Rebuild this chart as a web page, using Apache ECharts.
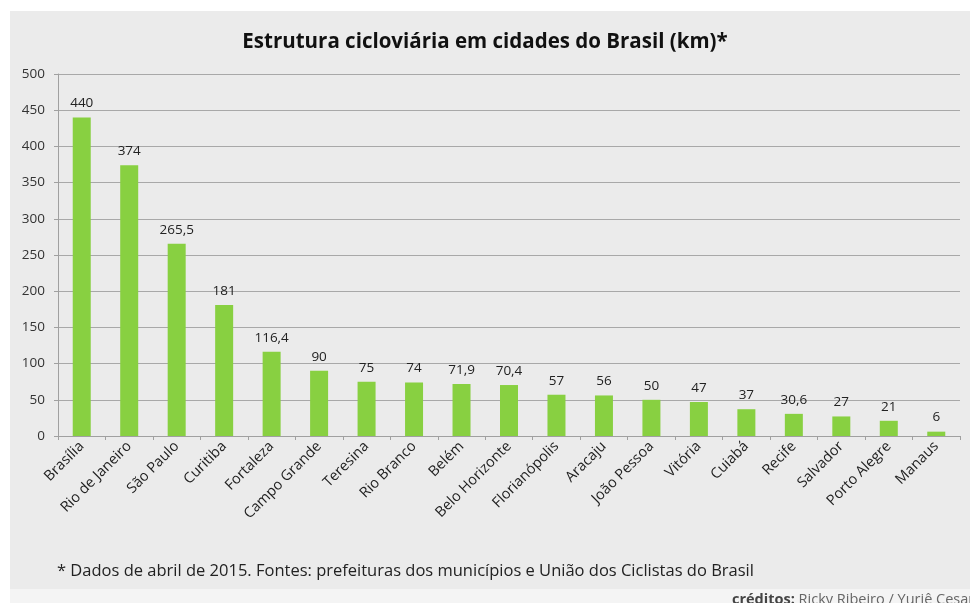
<!DOCTYPE html>
<html>
<head>
<meta charset="utf-8">
<script src="https://cdn.jsdelivr.net/npm/echarts@6/dist/echarts.min.js"></script>
<style>
html,body{margin:0;padding:0;background:#fff;}
#c{width:970px;height:603px;}
</style>
</head>
<body>
<div id="c"></div>
<script>
const categories = ["Brasília","Rio de Janeiro","São Paulo","Curitiba","Fortaleza","Campo Grande","Teresina","Rio Branco","Belém","Belo Horizonte","Florianópolis","Aracaju","João Pessoa","Vitória","Cuiabá","Recife","Salvador","Porto Alegre","Manaus"];
const values = [440, 374, 265.5, 181, 116.4, 90, 75, 74, 71.9, 70.4, 57, 56, 50, 47, 37, 30.6, 27, 21, 6];
const yTicks = [0, 50, 100, 150, 200, 250, 300, 350, 400, 450, 500];

const FONT = "Open Sans";
const chart = echarts.init(document.getElementById('c'));
chart.setOption({
  backgroundColor: '#ffffff',
  animation: false,
  textStyle: { fontFamily: FONT },
  graphic: [
    { type: 'rect', z: -10, shape: { x: 10, y: 11, width: 960, height: 578 }, style: { fill: '#ebebeb' } },
    { type: 'rect', z: -10, shape: { x: 10, y: 589, width: 960, height: 14 }, style: { fill: '#f4f4f4' } },
    { type: 'text', left: 57, top: 563, style: { text: '* Dados de abril de 2015. Fontes: prefeituras dos municípios e União dos Ciclistas do Brasil', fontSize: 16.5, fill: '#222', fontFamily: FONT } },
    { type: 'text', left: 732, top: 592, style: { text: '{b|créditos:} Ricky Ribeiro / Yuriê Cesar', fontSize: 14.5, fill: '#666', fontFamily: FONT, rich: { b: { fontWeight: 'bold', fontSize: 14.5, fill: '#444', fontFamily: FONT } } } }
  ],
  title: {
    text: 'Estrutura cicloviária em cidades do Brasil (km)*',
    left: 'center', top: 27,
    textStyle: { fontSize: 20.5, fontWeight: 'bold', color: '#111', fontFamily: FONT }
  },
  grid: { left: 58, right: 10, top: 74, bottom: 167, containLabel: false },
  xAxis: {
    type: 'category',
    data: categories,
    axisLine: { show: true, lineStyle: { color: '#a0a0a0' } },
    axisTick: { show: true, alignWithLabel: false, length: 4, lineStyle: { color: '#a0a0a0' } },
    axisLabel: { rotate: 45, interval: 0, fontSize: 14.5, color: '#222', margin: 8, fontFamily: FONT }
  },
  yAxis: {
    type: 'value',
    min: yTicks[0], max: yTicks[yTicks.length - 1], interval: 50,
    axisLine: { show: true, lineStyle: { color: '#a0a0a0' } },
    axisTick: { show: true, length: 4, lineStyle: { color: '#a0a0a0' } },
    splitLine: { show: true, lineStyle: { color: '#a8a8a8' } },
    axisLabel: { fontSize: 13.5, color: '#333', margin: 13, fontFamily: FONT }
  },
  series: [{
    type: 'bar',
    data: values,
    barWidth: 18,
    itemStyle: { color: '#88d041' },
    label: {
      show: true, position: 'top', distance: 7, fontSize: 13.5, color: '#222', fontFamily: FONT,
      formatter: p => String(p.value).replace('.', ',')
    }
  }]
});
</script>
</body>
</html>
